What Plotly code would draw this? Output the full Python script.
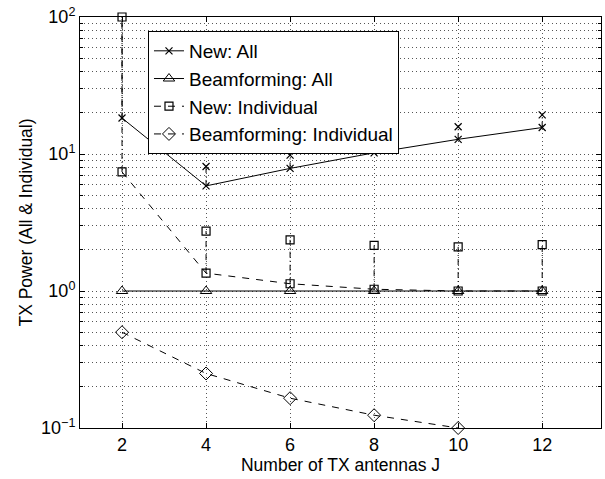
import plotly.graph_objects as go

# ---- data ----
J = [2, 4, 6, 8, 10, 12]
new_all_low = [18.3, 5.85, 7.85, 10.2, 12.8, 15.6]
new_all_high = [130, 8.1, 9.8, 12.8, 15.8, 19.3]
bf_all = [1.0, 1.0, 1.0, 1.0, 1.0, 1.0]
new_ind_low = [7.4, 1.35, 1.13, 1.03, 1.0, 1.0]
new_ind_high = [100, 2.74, 2.36, 2.15, 2.1, 2.18]
J_bf_ind = [2, 4, 6, 8, 10]
bf_ind = [0.5, 0.25, 0.165, 0.124, 0.1]

x_ticks = [2, 4, 6, 8, 10, 12]
y_ticks = [0.1, 1, 10, 100]
y_ticktext = ["10<sup>\u22121</sup>", "10<sup>0</sup>", "10<sup>1</sup>", "10<sup>2</sup>"]
minor_y = [m * 10 ** k for k in (-1, 0, 1) for m in range(2, 10)]

FONT = "Liberation Sans, Arial, Helvetica, sans-serif"
BLACK = "black"


def vsegs(xs, lo, hi):
    vx, vy = [], []
    for x, a, b in zip(xs, lo, hi):
        vx += [x, x, None]
        vy += [a, b, None]
    return vx, vy


fig = go.Figure()

# vertical dash-dot connectors
for lo, hi in ((new_all_low, new_all_high), (new_ind_low, new_ind_high)):
    vx, vy = vsegs(J, lo, hi)
    fig.add_trace(go.Scatter(x=vx, y=vy, mode="lines", showlegend=False,
                             line=dict(color=BLACK, width=1, dash="6px,3px,1px,3px"),
                             hoverinfo="skip"))

# upper markers
fig.add_trace(go.Scatter(x=J, y=new_all_high, mode="markers", showlegend=False,
                         marker=dict(symbol="x-thin-open", size=7, color=BLACK,
                                     line=dict(color=BLACK, width=1.2)),
                         cliponaxis=True))
fig.add_trace(go.Scatter(x=J, y=new_ind_high, mode="markers", showlegend=False,
                         marker=dict(symbol="square-open", size=8, color=BLACK,
                                     line=dict(color=BLACK, width=1.2)),
                         cliponaxis=False))

# main series
fig.add_trace(go.Scatter(x=J, y=new_all_low, mode="lines+markers", name="New: All",
                         line=dict(color=BLACK, width=1),
                         marker=dict(symbol="x-thin-open", size=7, color=BLACK,
                                     line=dict(color=BLACK, width=1.2)),
                         cliponaxis=False))
fig.add_trace(go.Scatter(x=J, y=bf_all, mode="lines+markers", name="Beamforming: All",
                         line=dict(color=BLACK, width=1),
                         marker=dict(symbol="triangle-up-open", size=10, color=BLACK,
                                     line=dict(color=BLACK, width=1)),
                         cliponaxis=False))
fig.add_trace(go.Scatter(x=J, y=new_ind_low, mode="lines+markers", name="New: Individual",
                         line=dict(color=BLACK, width=1, dash="7px,7px"),
                         marker=dict(symbol="square-open", size=8, color=BLACK,
                                     line=dict(color=BLACK, width=1.2)),
                         cliponaxis=False))
fig.add_trace(go.Scatter(x=J_bf_ind, y=bf_ind, mode="lines+markers",
                         name="Beamforming: Individual",
                         line=dict(color=BLACK, width=1, dash="7px,7px"),
                         marker=dict(symbol="diamond-open", size=10, color=BLACK,
                                     line=dict(color=BLACK, width=1)),
                         cliponaxis=False))

grid_common = dict(showgrid=True, gridcolor="#555555", gridwidth=1, griddash="1px,3px",
                   showline=True, linecolor=BLACK, linewidth=1, mirror="ticks",
                   ticks="inside", ticklen=5, tickcolor=BLACK, zeroline=False,
                   tickfont=dict(family=FONT, size=18, color=BLACK))

fig.update_xaxes(range=[1, 13.4], tickmode="array", tickvals=x_ticks,
                 title=dict(text="Number of TX antennas J", font=dict(family=FONT, size=17.5, color=BLACK),
                            standoff=2),
                 **grid_common)
fig.update_yaxes(type="log", range=[-1, 2], tickmode="array", tickvals=y_ticks,
                 ticktext=y_ticktext,
                 minor=dict(tickmode="array", tickvals=minor_y, ticks="inside", ticklen=3,
                            tickcolor=BLACK, showgrid=True, gridcolor="#555555",
                            griddash="1px,3px", gridwidth=1),
                 title=dict(text="TX Power (All & Individual)", font=dict(family=FONT, size=17.5, color=BLACK),
                            standoff=3),
                 **grid_common)

fig.update_layout(
    width=605, height=479,
    margin=dict(l=80, r=4, t=17, b=51),
    paper_bgcolor="white", plot_bgcolor="white",
    font=dict(family=FONT, size=18, color=BLACK),
    showlegend=True,
    legend=dict(x=0.1305, y=0.966, xanchor="left", yanchor="top",
                bgcolor="white", bordercolor=BLACK, borderwidth=1,
                font=dict(family=FONT, size=19, color=BLACK),
                tracegroupgap=0),
)

fig.write_html("out.html")
